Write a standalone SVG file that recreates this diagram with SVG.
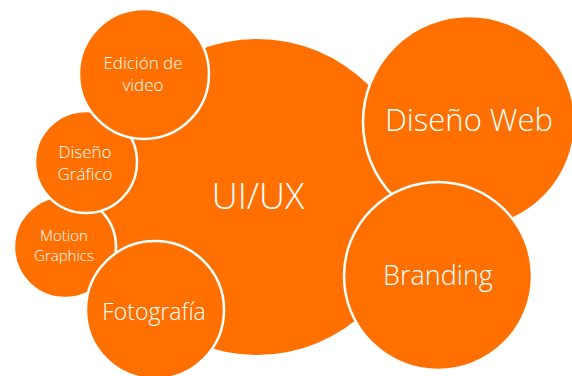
<svg xmlns="http://www.w3.org/2000/svg" width="572" height="376" viewBox="0 0 572 376">
<style>
.c{fill:#FF7000;stroke:#FFFFFF;stroke-width:2.5}
.t{fill:#FFFFFF;font-family:"Open Sans","DejaVu Sans",sans-serif;font-weight:300;text-anchor:middle}
</style>
<rect width="572" height="376" fill="#FFFFFF"/>
<g id="connectors"></g>
<g id="uiux"><circle cx="257" cy="197" r="158" fill="#FF7000"/><text class="t" x="258" y="209" font-size="36">UI/UX</text></g>
<g id="motion"><circle class="c" cx="65" cy="247" r="51"/><text class="t" x="64" y="241" font-size="15">Motion</text><text class="t" x="64" y="261" font-size="15">Graphics</text></g>
<g id="grafico"><circle class="c" cx="86" cy="162" r="51"/><text class="t" x="85" y="158" font-size="17">Diseño</text><text class="t" x="85" y="180" font-size="17">Gráfico</text></g>
<g id="video"><circle class="c" cx="144" cy="74" r="65"/><text class="t" x="143" y="69" font-size="17">Edición de</text><text class="t" x="143" y="91" font-size="17">video</text></g>
<g id="foto"><circle class="c" cx="155" cy="310" r="69"/><text class="t" x="154" y="320" font-size="23">Fotografía</text></g>
<g id="web"><circle class="c" cx="469" cy="122" r="106"/><text class="t" x="469" y="131" font-size="31">Diseño Web</text></g>
<g id="branding"><circle class="c" cx="438" cy="276" r="94"/><text class="t" x="438" y="285" font-size="27">Branding</text></g>
</svg>
